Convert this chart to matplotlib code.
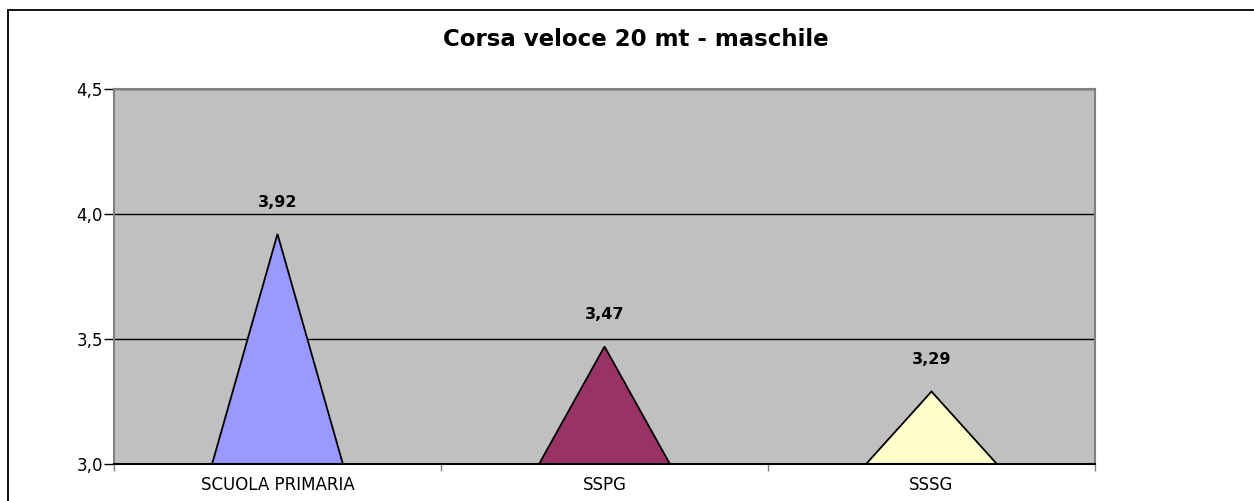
import matplotlib.pyplot as plt
from matplotlib.patches import Rectangle
import numpy as np

categories = ["SCUOLA PRIMARIA", "SSPG", "SSSG"]
values = [3.92, 3.47, 3.29]
colors = ["#9999FF", "#993366", "#FFFFCC"]
yticks = [3.0, 3.5, 4.0, 4.5]
title = "Corsa veloce 20 mt - maschile"

plt.rcParams['font.family'] = ['DejaVu Sans']

fig = plt.figure(figsize=(12.54, 5.01), dpi=100)
ax = fig.add_axes([114 / 1254, 1 - 464 / 501, (1095 - 114) / 1254, (464 - 89) / 501])
ax.set_facecolor("#C0C0C0")

# outer chart border (only left and top are visible in the picture)
fig.patches.append(Rectangle((8 / 1254, -0.1), 1.2, 1 - 10 / 501 + 0.1,
                             transform=fig.transFigure, fill=False,
                             edgecolor="black", linewidth=1.3))

ymin = yticks[0]
half = 0.2
for i, (v, c) in enumerate(zip(values, colors)):
    xs = [i - half, i, i + half]
    ys = [ymin, v, ymin]
    ax.fill(xs, ys, facecolor=c, edgecolor="black", linewidth=1.3, zorder=3, clip_on=False)
    ax.annotate(f"{v:.2f}".replace(".", ","), (i, v), xytext=(0, 23),
                textcoords="offset points", ha="center", va="center",
                fontsize=11.5, fontweight="bold", zorder=4)

ax.set_xlim(-0.5, len(categories) - 0.5)
ax.set_ylim(yticks[0], yticks[-1])

ax.set_yticks(yticks)
ax.set_yticklabels([f"{t:.1f}".replace(".", ",") for t in yticks], fontsize=12)
ax.tick_params(axis="y", direction="out", length=7, width=1, pad=1)

ax.set_xticks(range(len(categories)))
ax.set_xticklabels(categories, fontsize=12)
ax.set_xticks(np.arange(-0.5, len(categories)), minor=True)
ax.tick_params(axis="x", which="major", length=0, pad=9)
ax.tick_params(axis="x", which="minor", length=5, width=1, direction="out", color="#808080")

ax.grid(axis="y", color="black", linewidth=1, zorder=1)
ax.set_axisbelow(True)

for s in ["left", "right", "top"]:
    ax.spines[s].set_color("#808080")
    ax.spines[s].set_linewidth(1.5)
ax.spines["bottom"].set_color("black")
ax.spines["bottom"].set_linewidth(1.5)
ax.spines["bottom"].set_zorder(5)

fig.text(636 / 1254, 1 - 39 / 501, title, ha="center", va="center",
         fontsize=16.5, fontweight="bold")

fig.savefig("out.png", dpi=100)
